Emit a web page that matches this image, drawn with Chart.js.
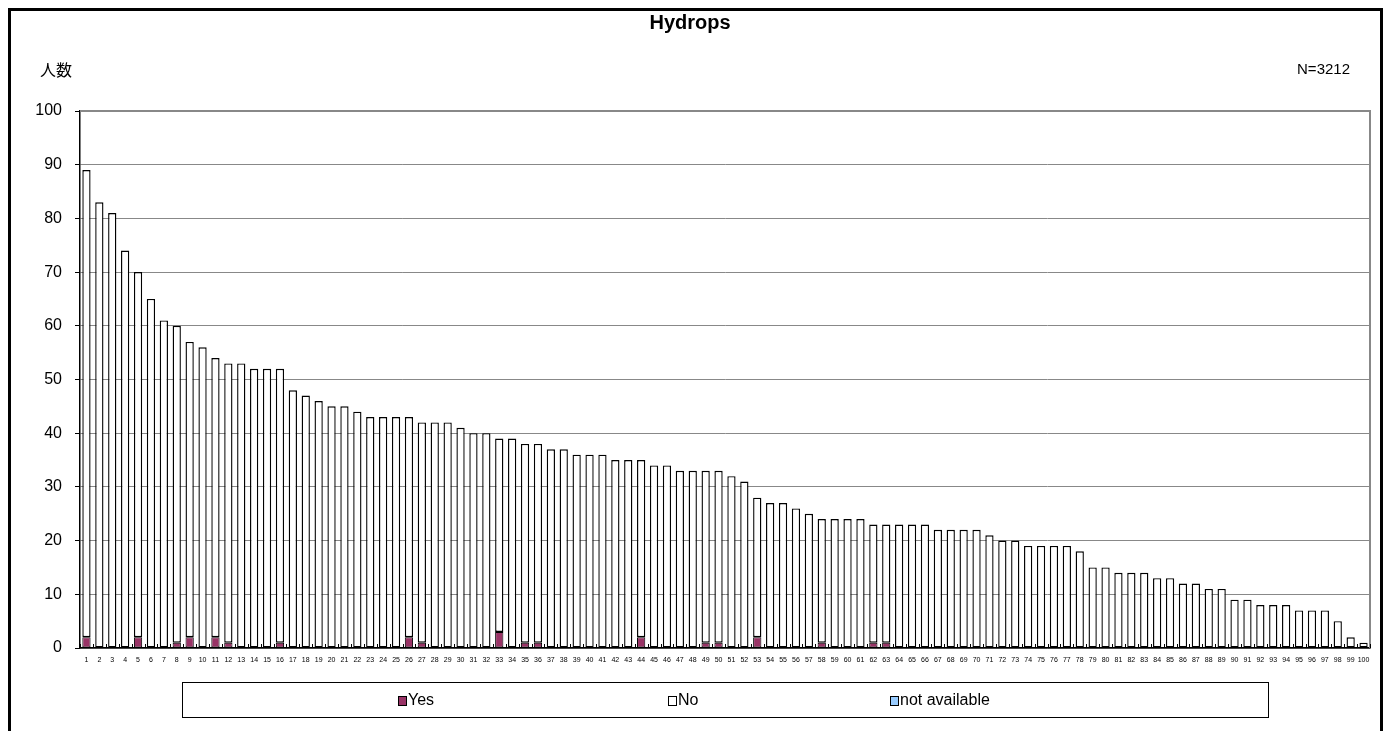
<!DOCTYPE html>
<html>
<head>
<meta charset="utf-8">
<script src="https://cdn.jsdelivr.net/npm/chart.js@4.4.1/dist/chart.umd.min.js"></script>
<style>
  html, body { margin: 0; padding: 0; background: #fff; }
  canvas { display: block; }
</style>
</head>
<body>
<canvas id="hydrops" width="1385" height="731"></canvas>
<script>
// categories (rank 1..100)
var categories = [
  "1","2","3","4","5","6","7","8","9","10",
  "11","12","13","14","15","16","17","18","19","20",
  "21","22","23","24","25","26","27","28","29","30",
  "31","32","33","34","35","36","37","38","39","40",
  "41","42","43","44","45","46","47","48","49","50",
  "51","52","53","54","55","56","57","58","59","60",
  "61","62","63","64","65","66","67","68","69","70",
  "71","72","73","74","75","76","77","78","79","80",
  "81","82","83","84","85","86","87","88","89","90",
  "91","92","93","94","95","96","97","98","99","100"
];

var yesValues = [
  2,0,0,0,2,0,0,1,2,0,
  2,1,0,0,0,1,0,0,0,0,
  0,0,0,0,0,2,1,0,0,0,
  0,0,3,0,1,1,0,0,0,0,
  0,0,0,2,0,0,0,0,1,1,
  0,0,2,0,0,0,0,1,0,0,
  0,1,1,0,0,0,0,0,0,0,
  0,0,0,0,0,0,0,0,0,0,
  0,0,0,0,0,0,0,0,0,0,
  0,0,0,0,0,0,0,0,0,0
];

var noValues = [
  87,83,81,74,68,65,61,59,55,56,
  52,52,53,52,52,51,48,47,46,45,
  45,44,43,43,43,41,41,42,42,41,
  40,40,36,39,37,37,37,37,36,36,
  36,35,35,33,34,34,33,33,32,32,
  32,31,26,27,27,26,25,23,24,24,
  24,22,22,23,23,23,22,22,22,22,
  21,20,20,19,19,19,19,18,15,15,
  14,14,14,13,13,12,12,11,11,9,
  9,8,8,8,7,7,7,5,2,1
];

var naValues = [
  0,0,0,0,0,0,0,0,0,0,
  0,0,0,0,0,0,0,0,0,0,
  0,0,0,0,0,0,0,0,0,0,
  0,0,0,0,0,0,0,0,0,0,
  0,0,0,0,0,0,0,0,0,0,
  0,0,0,0,0,0,0,0,0,0,
  0,0,0,0,0,0,0,0,0,0,
  0,0,0,0,0,0,0,0,0,0,
  0,0,0,0,0,0,0,0,0,0,
  0,0,0,0,0,0,0,0,0,0
];

var yTicks = [0, 10, 20, 30, 40, 50, 60, 70, 80, 90, 100];

var FONT = '"Liberation Sans", Arial, sans-serif';

// zero-height segments draw nothing
function skipZero(arr) {
  return arr.map(function (v) { return v === 0 ? null : v; });
}

// frame, title, notes, inside ticks and legend box
var decor = {
  id: 'decor',
  afterDraw: function (chart) {
    var c = chart.ctx;
    var a = chart.chartArea;
    c.save();

    // outer frame
    c.strokeStyle = '#000';
    c.lineWidth = 3;
    c.strokeRect(9.5, 9.5, 1372, 760);

    // plot border top / right
    c.strokeStyle = '#888';
    c.lineWidth = 2;
    c.beginPath();
    c.moveTo(a.left, a.top);
    c.lineTo(a.right, a.top);
    c.lineTo(a.right, a.bottom);
    c.stroke();

    // small inside tick marks between categories
    c.strokeStyle = '#000';
    c.lineWidth = 1;
    c.beginPath();
    var step = (a.right - a.left) / categories.length;
    for (var i = 0; i <= categories.length; i++) {
      var px = Math.round(a.left + i * step) + 0.5;
      c.moveTo(px, a.bottom);
      c.lineTo(px, a.bottom - 4);
    }
    c.stroke();

    // title + notes
    c.fillStyle = '#000';
    c.textBaseline = 'middle';
    c.textAlign = 'center';
    c.font = 'bold 20px ' + FONT;
    c.fillText('Hydrops', 690, 23);
    c.textAlign = 'left';
    c.font = '16px "Noto Sans CJK JP", sans-serif';
    c.fillText('人数', 40, 70);
    c.textAlign = 'right';
    c.font = '15px ' + FONT;
    c.fillText('N=3212', 1350, 70);

    // legend
    c.strokeStyle = '#000';
    c.lineWidth = 1;
    c.strokeRect(182.5, 682.5, 1086, 35);
    var items = [
      { ds: 0, x: 398 },
      { ds: 1, x: 668 },
      { ds: 2, x: 890 }
    ];
    c.font = '16px ' + FONT;
    c.textAlign = 'left';
    items.forEach(function (it) {
      var ds = chart.data.datasets[it.ds];
      c.fillStyle = ds.backgroundColor;
      c.fillRect(it.x, 696, 8, 9);
      c.strokeStyle = '#000';
      c.strokeRect(it.x + 0.5, 696.5, 8, 9);
      c.fillStyle = '#000';
      c.fillText(ds.label, it.x + 10, 701);
    });

    c.restore();
  }
};

var ctx = document.getElementById('hydrops').getContext('2d');
var hydropsChart = new Chart(ctx, {
  type: 'bar',
  data: {
    labels: categories,
    datasets: [
      {
        label: 'Yes',
        data: skipZero(yesValues),
        backgroundColor: '#993366',
        borderColor: '#000',
        borderWidth: 1,
        borderSkipped: false
      },
      {
        label: 'No',
        data: noValues,
        backgroundColor: '#ffffff',
        borderColor: '#000',
        borderWidth: 1.4,
        borderSkipped: false
      },
      {
        label: 'not available',
        data: skipZero(naValues),
        backgroundColor: '#99ccff',
        borderColor: '#000',
        borderWidth: 1,
        borderSkipped: false
      }
    ]
  },
  options: {
    responsive: false,
    animation: false,
    devicePixelRatio: 1,
    barPercentage: 0.64,
    categoryPercentage: 1,
    layout: { padding: { left: 0, right: 15, top: 111, bottom: 63 } },
    plugins: {
      legend: { display: false },
      title: { display: false },
      tooltip: { enabled: false }
    },
    scales: {
      x: {
        stacked: true,
        grid: { display: false, drawTicks: false },
        border: { display: true, color: '#000', width: 1.5 },
        ticks: {
          autoSkip: false,
          maxRotation: 0,
          minRotation: 0,
          padding: 8,
          color: '#000',
          font: { family: FONT, size: 7 }
        },
        afterFit: function (s) { s.height = 20; }
      },
      y: {
        stacked: true,
        min: 0,
        max: 100,
        afterBuildTicks: function (s) {
          s.ticks = yTicks.map(function (v) { return { value: v }; });
        },
        grid: { color: '#888', lineWidth: 1, tickLength: 5, tickColor: '#000' },
        border: { display: true, color: '#000', width: 1.5 },
        ticks: {
          padding: 13,
          color: '#000',
          font: { family: FONT, size: 16 }
        },
        afterFit: function (s) { s.width = 80; }
      }
    }
  },
  plugins: [decor]
});
</script>
</body>
</html>
